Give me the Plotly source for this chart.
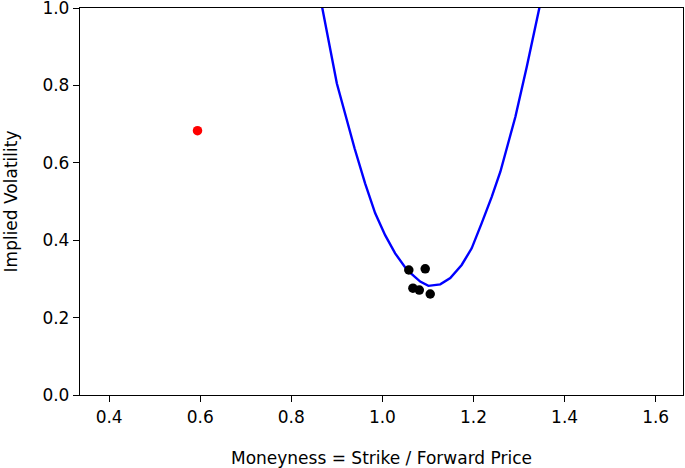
import plotly.graph_objects as go

# Fitted smile curve (moneyness, implied vol)
curve_x = [0.845, 0.868, 0.900, 0.939, 0.962, 0.984, 1.006, 1.028, 1.054, 1.083, 1.101,
           1.127, 1.149, 1.174, 1.196, 1.218, 1.240, 1.259, 1.267, 1.292, 1.317, 1.345, 1.370]
curve_y = [1.14, 0.999, 0.805, 0.637, 0.547, 0.470, 0.413, 0.366, 0.323, 0.293, 0.282,
           0.286, 0.302, 0.336, 0.379, 0.444, 0.512, 0.577, 0.612, 0.719, 0.848, 0.999, 1.14]

# Observed market points
obs_x = [1.058, 1.094, 1.067, 1.081, 1.105]
obs_y = [0.323, 0.326, 0.276, 0.271, 0.261]

# Outlier point
out_x = [0.594]
out_y = [0.683]

x_ticks = [0.4, 0.6, 0.8, 1.0, 1.2, 1.4, 1.6]
y_ticks = [0.0, 0.2, 0.4, 0.6, 0.8, 1.0]

fig = go.Figure()
fig.add_trace(go.Scatter(x=curve_x, y=curve_y, mode="lines",
                         line=dict(color="#0000ff", width=2.4), showlegend=False))
fig.add_trace(go.Scatter(x=obs_x, y=obs_y, mode="markers",
                         marker=dict(color="black", size=9.5), showlegend=False))
fig.add_trace(go.Scatter(x=out_x, y=out_y, mode="markers",
                         marker=dict(color="#ff0000", size=9.5), showlegend=False))

axis_common = dict(showgrid=False, zeroline=False, showline=True, linecolor="black",
                   linewidth=1.3, mirror=True, ticks="outside", ticklen=6, tickwidth=1.2,
                   tickcolor="black", automargin=False, ticklabeloverflow="allow",
                   tickfont=dict(family="DejaVu Sans", size=17, color="black"))

fig.update_layout(
    width=685, height=468,
    margin=dict(l=80, r=2, t=8, b=73),
    paper_bgcolor="white", plot_bgcolor="white",
    font=dict(family="DejaVu Sans", size=17, color="black"),
    xaxis=dict(range=[0.336, 1.660], tickvals=x_ticks,
               ticktext=[f"{v:.1f}" for v in x_ticks],
               title=dict(text="Moneyness = Strike / Forward Price", standoff=27,
                          font=dict(family="DejaVu Sans", size=17)),
               **axis_common),
    yaxis=dict(range=[0, 1.00001], tickvals=y_ticks,
               ticktext=[f"{v:.1f}" for v in y_ticks],
               title=dict(text="Implied Volatility", standoff=20,
                          font=dict(family="DejaVu Sans", size=17)),
               **axis_common),
)

fig.write_html("out.html",
               config={"displayModeBar": False},
               post_script="document.body.style.margin='0';document.body.style.overflow='hidden';")
